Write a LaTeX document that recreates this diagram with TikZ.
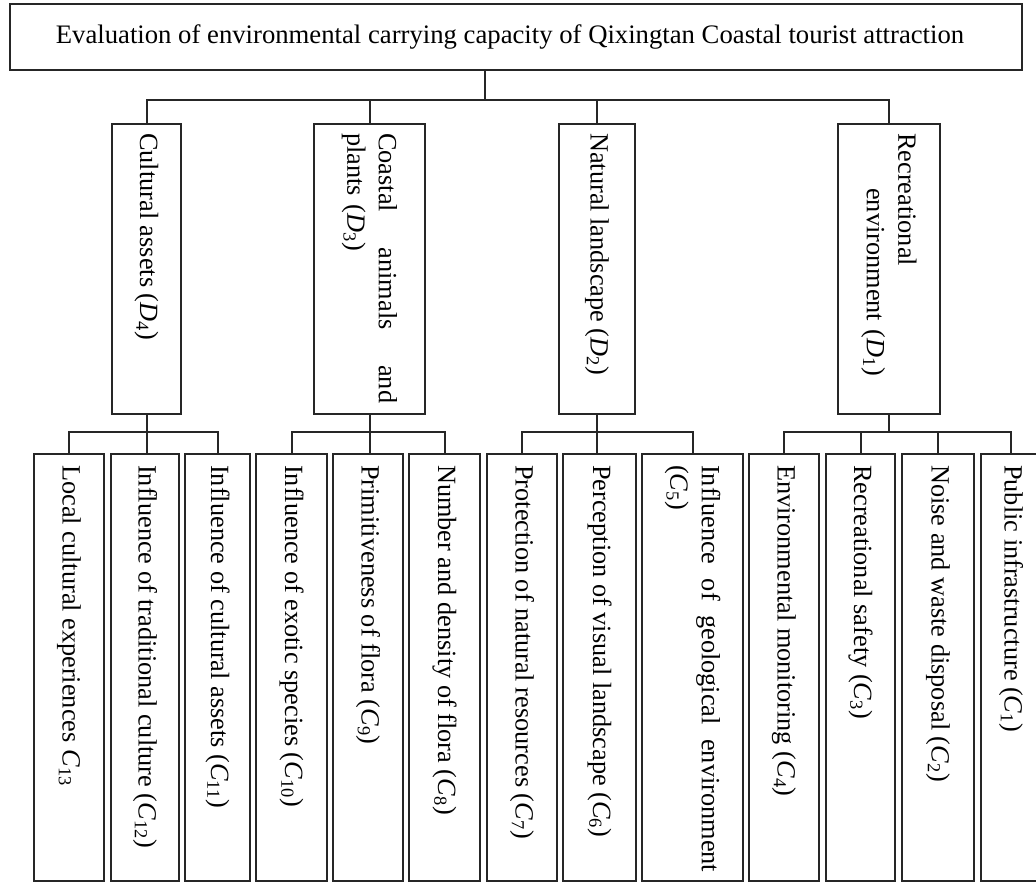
\documentclass[tikz,border=0pt]{standalone}
\usepackage{fontspec}
\setmainfont{Liberation Serif}
\newcommand{\Dsub}[1]{\textit{D}\textsubscript{#1}}
\newcommand{\Csub}[1]{\textit{C}\textsubscript{#1}}
\begin{document}
\begin{tikzpicture}[x=1pt,y=-1pt,
  box/.style={draw=black!85, line width=2pt, inner sep=0pt, anchor=north west},
  vtext/.style={rotate=-90, anchor=west, inner sep=0pt, align=left,
    font=\fontsize{26.3}{31.5}\selectfont, text=black},
  link/.style={draw=black!85, line width=2pt}]
\useasboundingbox (0,0) rectangle (1036,883);
\clip (0,0) rectangle (1036,883);
% box with top-left corner (x1,y1) and bottom-right corner (x2,y2)
\newcommand{\mkbox}[5]{\node[box, minimum width={#4-#2}, minimum height={#5-#3}] (#1) at (#2,#3) {};}

% goal
\mkbox{top}{9}{3}{1021}{69}
\node[font=\fontsize{26.7}{32}\selectfont, text=black, inner sep=0pt] (topt) at ([xshift=-6pt]top.center)
  {Evaluation of environmental carrying capacity of Qixingtan Coastal tourist attraction};

% criteria
\mkbox{d4}{111}{123}{180}{413}
\mkbox{d3}{313}{123}{424}{413}
\mkbox{d2}{558}{123}{634}{413}
\mkbox{d1}{837}{123}{939}{413}

\node[vtext] (d4t) at ([yshift=-10pt]d4.north) {Cultural assets (\Dsub{4})};
\node[vtext, text width=270pt] (d3t) at ([yshift=-10pt]d3.north)
  {Coastal\hfill animals\hfill and\\plants (\Dsub{3})};
\node[vtext] (d2t) at ([yshift=-10pt]d2.north) {Natural landscape (\Dsub{2})};
\node[vtext, text width=270pt] (d1t) at ([yshift=-10pt]d1.north)
  {Recreational\\\hspace*{55pt}environment (\Dsub{1})};

% indicators
\mkbox{c13}{33}{453}{103}{880}
\mkbox{c12}{110}{453}{178}{880}
\mkbox{c11}{184}{453}{249}{880}
\mkbox{c10}{255}{453}{326}{880}
\mkbox{c9}{332}{453}{402}{880}
\mkbox{c8}{408}{453}{479}{880}
\mkbox{c7}{486}{453}{556}{880}
\mkbox{c6}{562}{453}{635}{880}
\mkbox{c5}{641}{453}{742}{880}
\mkbox{c4}{748}{453}{818}{880}
\mkbox{c3}{825}{453}{894}{880}
\mkbox{c2}{901}{453}{973}{880}
\mkbox{c1}{980}{453}{1040}{880}

\node[vtext] (c13t) at ([yshift=-12pt]c13.north) {Local cultural experiences \Csub{13}};
\node[vtext] (c12t) at ([yshift=-12pt]c12.north) {Influence of traditional culture (\Csub{12})};
\node[vtext] (c11t) at ([yshift=-12pt]c11.north) {Influence of cultural assets (\Csub{11})};
\node[vtext] (c10t) at ([yshift=-12pt]c10.north) {Influence of exotic species (\Csub{10})};
\node[vtext] (c9t) at ([yshift=-12pt]c9.north) {Primitiveness of flora (\Csub{9})};
\node[vtext] (c8t) at ([yshift=-12pt]c8.north) {Number and density of flora (\Csub{8})};
\node[vtext] (c7t) at ([yshift=-12pt]c7.north) {Protection of natural resources (\Csub{7})};
\node[vtext] (c6t) at ([yshift=-12pt]c6.north) {Perception of visual landscape (\Csub{6})};
\node[vtext, text width=407pt] (c5t) at ([yshift=-12pt]c5.north)
  {Influence\hfill of\hfill geological\hfill environment\\(\Csub{5})};
\node[vtext] (c4t) at ([yshift=-12pt]c4.north) {Environmental monitoring (\Csub{4})};
\node[vtext] (c3t) at ([yshift=-12pt]c3.north) {Recreational safety (\Csub{3})};
\node[vtext] (c2t) at ([yshift=-12pt]c2.north) {Noise and waste disposal (\Csub{2})};
\node[vtext] (c1t) at ([yshift=-12pt]c1.north) {Public infrastructure (\Csub{1})};

% goal to criteria
\coordinate (j0) at (485,100);
\draw[link] (j0 |- top.south) -- (j0);
\draw[link] (d4.north) |- (d1.north |- j0) -- (d1.north);
\draw[link] (d3.north) -- (d3.north |- j0);
\draw[link] (d2.north) -- (d2.north |- j0);

% criteria to indicators
\coordinate (bus) at (0,432);
\draw[link] (c13.north) |- (c11.north |- bus) -- (c11.north);
\draw[link] (d4.south) -- (d4.south |- c12.north);

\draw[link] (c10.north) |- (c8.north |- bus) -- (c8.north);
\draw[link] (d3.south) -- (d3.south |- c9.north);

\draw[link] (c7.north) |- (c5.north |- bus) -- (c5.north);
\draw[link] (d2.south) -- (d2.south |- c6.north);

\draw[link] (c4.north) |- (c1.north |- bus) -- (c1.north);
\draw[link] (d1.south) -- (d1.south |- bus);
\draw[link] (c3.north) -- (c3.north |- bus);
\draw[link] (c2.north) -- (c2.north |- bus);
\end{tikzpicture}
\end{document}
